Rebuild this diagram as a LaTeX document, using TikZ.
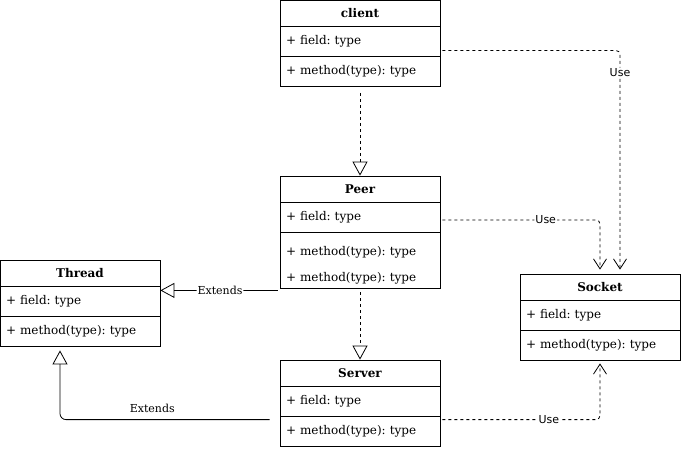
\documentclass[tikz,border=0pt]{standalone}
\usepackage{fontspec}
\setmainfont{DejaVu Serif}
\newfontfamily\lblsans{DejaVu Sans}
\usepackage{tikz}
\usetikzlibrary{arrows.meta}
\frenchspacing

\begin{document}
\begin{tikzpicture}[x=1pt, y=-1pt, line width=0.8pt,
	head/.style={draw, minimum width=160pt, minimum height=26pt, inner sep=0pt, font=\fontsize{12}{14}\selectfont\bfseries},
	part/.style={draw, minimum width=160pt, minimum height=30pt, text width=148pt, inner xsep=6pt, inner ysep=0pt, align=left, font=\fontsize{12}{14}\selectfont},
	use/.style={dash pattern=on 3pt off 3pt, -{Straight Barb[length=10pt, width=13pt]}, rounded corners=4pt},
	real/.style={dash pattern=on 3pt off 3pt, -{Triangle[open, length=14pt, width=15pt]}},
	ext/.style={-{Triangle[open, length=14pt, width=15pt]}, rounded corners=6pt},
	lbl/.style={fill=white, inner sep=1pt, font=\fontsize{11}{13}\selectfont},
	uselbl/.style={fill=white, inner sep=1pt, font=\lblsans\fontsize{11}{13}\selectfont}]
	
	\useasboundingbox (0,0) rectangle (681,450);
	
	\node[head] (client)  at (360, 13.5) {client};
	\node[part] (clientf) at (360, 41.5) {+ field: type};
	\node[part] (clientm) at (360, 71.5) {+ method(type): type};
	
	\node[head] (peer)  at (360, 189) {Peer};
	\node[part] (peerf) at (360, 217) {+ field: type};
	\node[part, minimum height=56pt, inner ysep=0pt, font=\fontsize{12}{26}\selectfont] (peerm) at (360, 260) {\rule{0pt}{20pt}+ method(type): type\\+ method(type): type};
	
	\node[head] (thread)  at (80, 273) {Thread};
	\node[part] (threadf) at (80, 301) {+ field: type};
	\node[part] (threadm) at (80, 331) {+ method(type): type};
	
	\node[head] (server)  at (360, 373) {Server};
	\node[part] (serverf) at (360, 401) {+ field: type};
	\node[part] (serverm) at (360, 431) {+ method(type): type};
	
	\node[head] (socket)  at (600, 287) {Socket};
	\node[part] (socketf) at (600, 315) {+ field: type};
	\node[part] (socketm) at (600, 345) {+ method(type): type};
	
	\path[real, shorten <=6pt] (clientm.south) edge (peer.north);
	\path[real, shorten <=4pt] (peerm.south) edge (server.north);
	
	\draw[use, shorten <=2pt, shorten >=4pt] ([yshift=-9pt]clientf.east) -| ([xshift=20pt]socket.north) node[uselbl, pos=0.55] {Use};
	\draw[use, shorten <=2pt, shorten >=4pt] ([yshift=-3pt]peerf.east) -| (socket.north) node[uselbl, pos=0.33] {Use};
	\draw[use, shorten <=2pt, shorten >=3pt] ([yshift=-4pt]serverm.north east) -| (socketm.south) node[uselbl, pos=0.34] {Use};
	
	\draw[ext, shorten <=2pt] ([yshift=-2pt]peerm.south west) -- ([yshift=-4pt]thread.south east) node[lbl, pos=0.5] {Extends};
	\draw[ext, shorten <=10pt, shorten >=4pt] ([yshift=-4pt]serverm.north west) -| ([xshift=-20pt]threadm.south) node[above=3pt, pos=0.29, font=\fontsize{11}{13}\selectfont] {Extends};
	
\end{tikzpicture}
\end{document}
